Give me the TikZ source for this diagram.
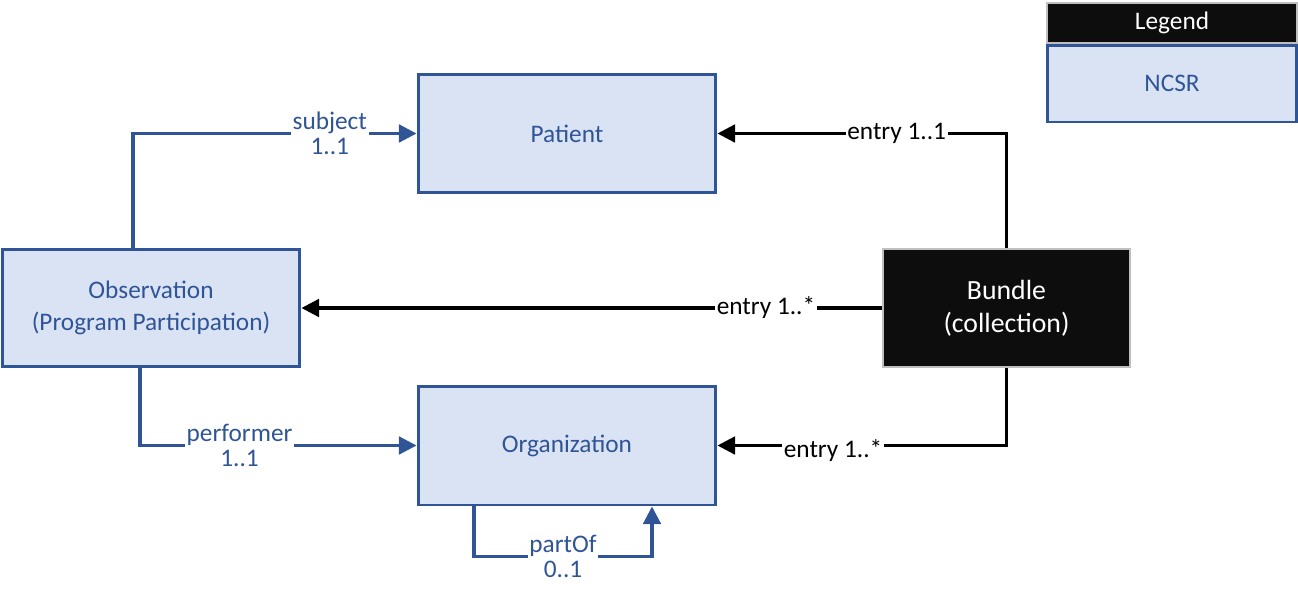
\documentclass[tikz,border=0pt]{standalone}
\usepackage{fontspec}
\setmainfont{Carlito}
\usetikzlibrary{calc,arrows.meta,positioning}
\definecolor{ncsrfill}{HTML}{DAE3F3}
\definecolor{ncsrblue}{HTML}{2F5597}
\definecolor{bundlefill}{HTML}{0D0D0D}
\definecolor{edgegrey}{HTML}{BFBFBF}
\tikzset{
  ncsrbox/.style={draw=ncsrblue, fill=ncsrfill, line width=1.7pt, text=ncsrblue, align=center},
  blackbox/.style={draw=edgegrey, fill=bundlefill, line width=1pt, text=white, align=center},
  bluelink/.style={draw=ncsrblue, line width=1.8pt, -{Triangle[length=10pt,width=10pt]}},
  blacklink/.style={draw=black, line width=1.8pt, -{Triangle[length=10pt,width=10pt]}},
  bluelabel/.style={fill=white, text=ncsrblue, align=center, inner sep=1pt, font=\fontsize{14.4}{14}\selectfont},
  blacklabel/.style={fill=white, text=black, inner sep=1pt, font=\fontsize{14.4}{14}\selectfont}
}
\begin{document}
\begin{tikzpicture}[x=0.02cm, y=-0.02cm, font=\fontsize{14.4}{18}\selectfont]
        \useasboundingbox (0,0) rectangle (1298,595);

        % Define nodes for the resources
        \node[ncsrbox, minimum width=5.96cm, minimum height=2.38cm] (patient) at (567,133.5) {Patient};
        \node[ncsrbox, minimum width=5.96cm, minimum height=2.36cm] (obs) at (151,308) {Observation\\(Program Participation)};
        \node[ncsrbox, minimum width=5.96cm, minimum height=2.38cm] (org) at (567,445.5) {Organization};
        \node[blackbox, minimum width=4.94cm, minimum height=2.36cm, font=\fontsize{15.8}{19}\selectfont] (bundle) at (1006.5,308) {Bundle\\(collection)};

        % Legend
        \node[blackbox, minimum width=5cm, minimum height=0.8cm] (legend) at (1172,23) {Legend};
        \node[ncsrbox, minimum width=5cm, minimum height=1.54cm] (ncsr) at (1172,83.5) {NCSR};

        % Draw references from Observation and Organization
        \draw[bluelink] ($(obs.north)+(-18,0)$) |- (patient.west) node[bluelabel, pos=0.847] {subject\\1..1};
        \draw[bluelink] ($(obs.south)+(-11,0)$) |- (org.west) node[bluelabel, pos=0.68] {performer\\1..1};
        \draw[bluelink] ($(org.south)+(-93,0)$) -- ++(0,50) -| ($(org.south)+(85,0)$) node[bluelabel, pos=0.25] {partOf\\0..1};

        % Draw entries of the Bundle
        \draw[blacklink] (bundle.north) |- (patient.east) node[blacklabel, pos=0.69] {entry 1..1};
        \draw[blacklink] (bundle.west) -- (obs.east) node[blacklabel, pos=0.2] {entry 1..*};
        \draw[blacklink] (bundle.south) |- (org.east) node[blacklabel, pos=0.8, yshift=-3pt] {entry 1..*};
    \end{tikzpicture}
\end{document}
